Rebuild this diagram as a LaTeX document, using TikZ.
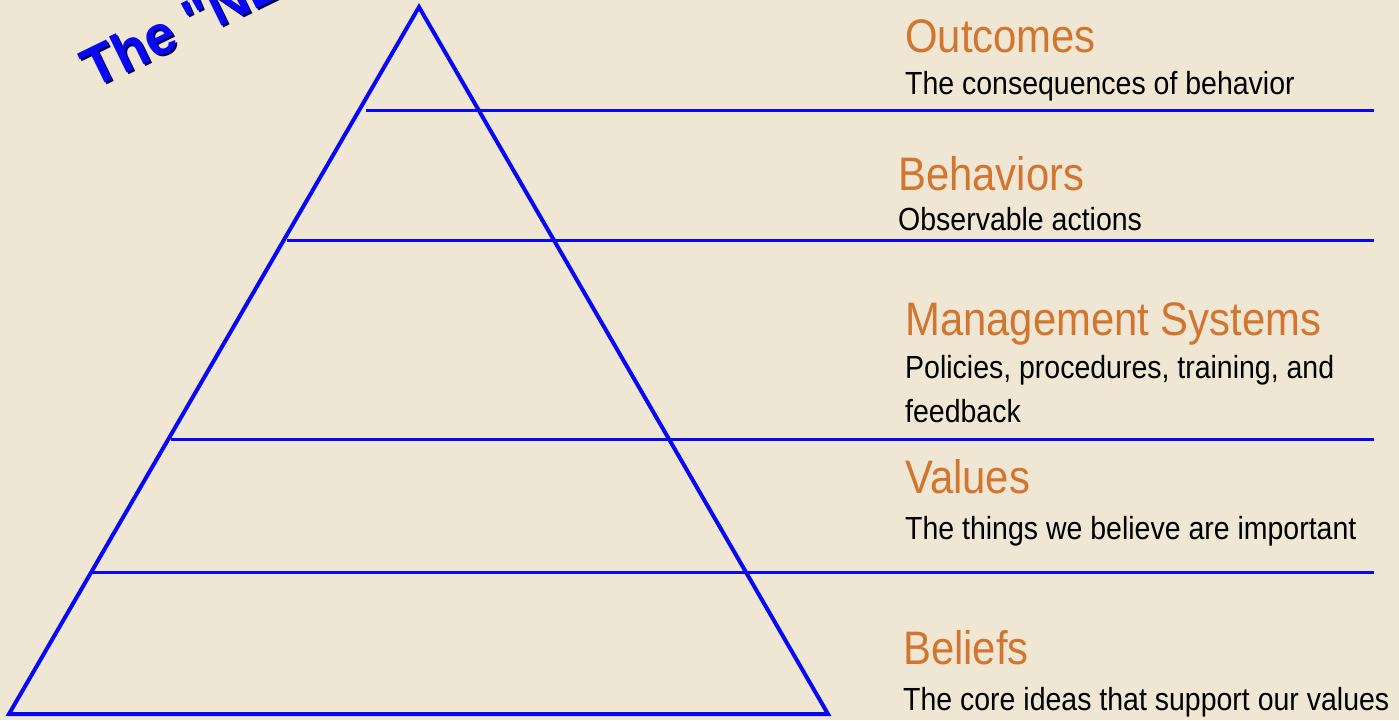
\documentclass[tikz,border=0pt]{standalone}
\usepackage{fontspec}
\setmainfont[FakeStretch=0.89]{Liberation Sans}
\newfontfamily\bannerfont{Liberation Sans}
\usepackage{xcolor}
\usetikzlibrary{positioning}

\definecolor{canvas}{HTML}{EFE7D4}
\definecolor{pyrblue}{HTML}{0808F2}
\definecolor{headorange}{HTML}{D2752F}
\definecolor{bannershade}{HTML}{00005A}

\begin{document}
\begin{tikzpicture}[x=1pt,y=-1pt]
			\tikzstyle{side}=[draw=pyrblue,line width=4pt,line join=miter]
			\tikzstyle{tier}=[draw=pyrblue,line width=3pt]
			\tikzstyle{head}=[anchor=base west,inner sep=0pt,text=headorange,font=\fontsize{47}{52}\selectfont]
			\tikzstyle{sub}=[anchor=base west,inner sep=0pt,text=black,align=left,font=\fontsize{32}{44}\selectfont]
			\tikzstyle{banner}=[anchor=base west,inner sep=0pt,rotate=26,font=\bannerfont\bfseries\fontsize{55}{55}\selectfont]

			\fill[canvas] (0,0) rectangle (1399,720);
			\useasboundingbox (0,0) rectangle (1399,720);

			% slanted banner, cut by the top edge
			\node[banner,text=bannershade] (bannerS) at (95,91) {The "NE};
			\node[banner,text=pyrblue]     (banner)  at (93,89) {The "NE};

			% pyramid corners
			\coordinate (apex) at (419,7);
			\coordinate (bl)   at (9,714);
			\coordinate (br)   at (828,714);

			% tier lines, from the left side out to the labels
			\coordinate (t1a) at (366,110);  \coordinate (t1b) at (1374,110);
			\coordinate (t2a) at (287,240);  \coordinate (t2b) at (1374,240);
			\coordinate (t3a) at (171,439);  \coordinate (t3b) at (1374,439);
			\coordinate (t4a) at (90,572);   \coordinate (t4b) at (1374,572);

			\draw[side] (apex) -- (bl) -- (br) -- cycle;
			\draw[tier] (t1a) -- (t1b);
			\draw[tier] (t2a) -- (t2b);
			\draw[tier] (t3a) -- (t3b);
			\draw[tier] (t4a) -- (t4b);

			% labels (base of a two-line label is its last line)
			\node[head] (outc)  at (905,52)  {Outcomes};
			\node[sub]  (outcT) at (905,94)  {The consequences of behavior};
			\node[head] (behv)  at (898,190) {Behaviors};
			\node[sub]  (behvT) at (898,230) {Observable actions};
			\node[head] (mgmt)  at (905,335) {Management Systems};
			\node[sub]  (mgmtT) at (905,422) {Policies, procedures, training, and\\feedback};
			\node[head] (vals)  at (905,493) {Values};
			\node[sub]  (valsT) at (905,539) {The things we believe are important};
			\node[head] (blfs)  at (903,664) {Beliefs};
			\node[sub]  (blfsT) at (903,710) {The core ideas that support our values};
		\end{tikzpicture}
\end{document}
